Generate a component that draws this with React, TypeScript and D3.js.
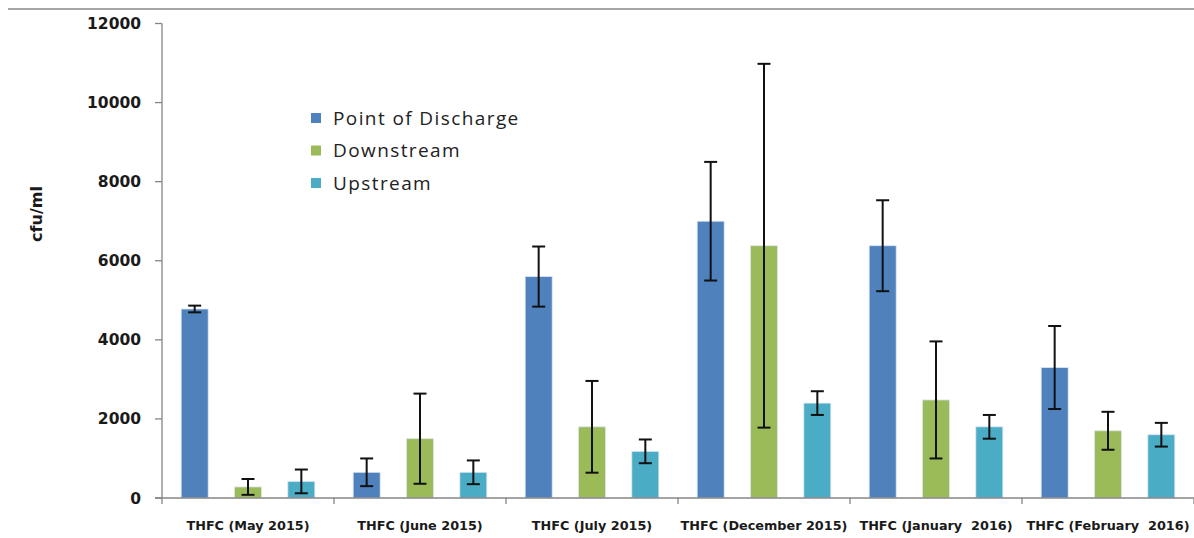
import React from "react";
import * as d3 from "d3";

const categories = [
  "THFC (May 2015)",
  "THFC (June 2015)",
  "THFC (July 2015)",
  "THFC (December 2015)",
  "THFC (January  2016)",
  "THFC (February  2016)",
];
const seriesNames = ["Point of Discharge", "Downstream", "Upstream"];
const seriesColors = ["#4F81BD", "#9BBB59", "#4BACC6"];
const pointOfDischarge = [4780, 650, 5600, 7000, 6380, 3300];
const pointOfDischargeErr = [85, 350, 760, 1500, 1150, 1050];
const downstream = [280, 1500, 1800, 6380, 2480, 1700];
const downstreamErr = [200, 1140, 1160, 4600, 1480, 480];
const upstream = [420, 650, 1180, 2400, 1800, 1600];
const upstreamErr = [300, 300, 300, 300, 300, 300];
const yTicks = [0, 2000, 4000, 6000, 8000, 10000, 12000];

const W = 1194;
const H = 538;

export default function App() {
  const x0 = 162;
  const x1 = 1194;
  const yZero = 498;
  const yTop = 23.5;
  const xScale = d3.scaleBand<string>().domain(categories).range([x0, x1]).padding(0);
  const yScale = d3.scaleLinear().domain([0, 12000]).range([yZero, yTop]);
  const inner = d3.scaleBand<string>().domain(seriesNames).range([-80, 80]).padding(0);
  const barW = 27;
  const values = [pointOfDischarge, downstream, upstream];
  const errs = [pointOfDischargeErr, downstreamErr, upstreamErr];
  const boundaries = d3.range(categories.length + 1).map((i) => x0 + i * xScale.bandwidth());

  return (
    <svg width={W} height={H} style={{ position: "absolute", left: 0, top: 0, background: "#fff" }}>
      <rect x={0} y={0} width={W} height={H} fill="#fff" />
      <line x1={8} x2={W} y1={9} y2={9} stroke="#a6a6a6" strokeWidth={2} />
      {/* y axis */}
      <line x1={x0} x2={x0} y1={yTop} y2={yZero} stroke="#868686" strokeWidth={1.3} />
      {yTicks.map((t) => (
        <g key={t}>
          <line x1={x0 - 7} x2={x0} y1={yScale(t)} y2={yScale(t)} stroke="#868686" strokeWidth={1.3} />
          <text
            x={141}
            y={yScale(t)}
            dy="0.36em"
            textAnchor="end"
            fontFamily="DejaVu Sans"
            fontWeight="bold"
            fontSize={15.5}
            fill="#1a1a1a"
          >
            {t}
          </text>
        </g>
      ))}
      <text
        transform={`translate(42,214) rotate(-90)`}
        textAnchor="middle"
        fontFamily="DejaVu Sans"
        fontWeight="bold"
        fontSize={16}
        fill="#1a1a1a"
      >
        cfu/ml
      </text>
      {/* bars */}
      {categories.map((c, ci) => {
        const cx = (xScale(c) as number) + xScale.bandwidth() / 2;
        return seriesNames.map((s, si) => {
          const bx = cx + (inner(s) as number) + inner.bandwidth() / 2;
          const v = values[si][ci];
          const e = errs[si][ci];
          return (
            <g key={c + s}>
              <rect
                x={bx - barW / 2}
                y={yScale(v)}
                width={barW}
                height={yZero - yScale(v)}
                fill={seriesColors[si]}
                stroke="#dce6f2"
                strokeWidth={0.8}
              />
              <line x1={bx} x2={bx} y1={yScale(v + e)} y2={yScale(Math.max(0, v - e))} stroke="#111" strokeWidth={2} />
              <line x1={bx - 6.5} x2={bx + 6.5} y1={yScale(v + e)} y2={yScale(v + e)} stroke="#111" strokeWidth={2} />
              <line
                x1={bx - 6.5}
                x2={bx + 6.5}
                y1={yScale(Math.max(0, v - e))}
                y2={yScale(Math.max(0, v - e))}
                stroke="#111"
                strokeWidth={2}
              />
            </g>
          );
        });
      })}
      {/* x axis */}
      <line x1={x0 - 7} x2={x1} y1={yZero} y2={yZero} stroke="#868686" strokeWidth={1.3} />
      {boundaries.map((b, i) => (
        <line key={i} x1={b} x2={b} y1={yZero} y2={yZero + 6} stroke="#868686" strokeWidth={1.3} />
      ))}
      {categories.map((c) => (
        <text
          key={c}
          x={(xScale(c) as number) + xScale.bandwidth() / 2}
          y={530}
          textAnchor="middle"
          fontFamily="DejaVu Sans"
          fontWeight="bold"
          fontSize={12.8}
          fill="#1a1a1a"
          style={{ whiteSpace: "pre" }}
        >
          {c}
        </text>
      ))}
      {/* legend */}
      {seriesNames.map((s, i) => (
        <g key={s} transform={`translate(311,${113 + i * 32.5})`}>
          <rect x={0} y={0} width={10} height={10} fill={seriesColors[i]} />
          <text
            x={22}
            y={5}
            dy="0.36em"
            fontFamily="Open Sans"
            fontSize={19}
            letterSpacing={1.4}
            fill="#222"
          >
            {s}
          </text>
        </g>
      ))}
    </svg>
  );
}
